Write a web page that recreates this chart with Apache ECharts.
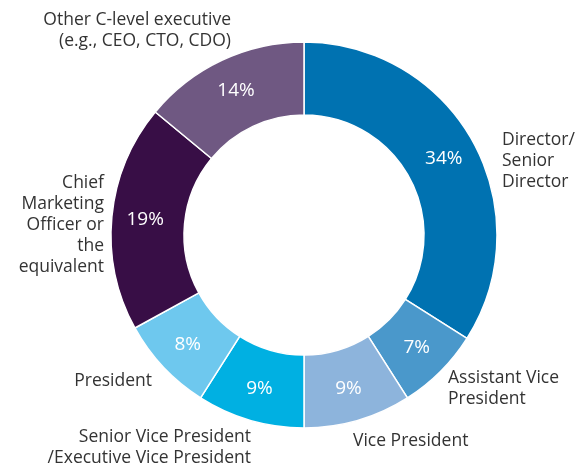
<!DOCTYPE html>
<html>
<head>
<meta charset="utf-8">
<script src="https://cdn.jsdelivr.net/npm/echarts@6/dist/echarts.min.js"></script>
<style>
  html, body { margin: 0; padding: 0; background: #fff; }
  #chart { width: 578px; height: 471px; }
</style>
</head>
<body>
<div id="chart"></div>
<script>
  // data, clockwise from 12 o'clock
  var roles = [
    'Director/\nSenior\nDirector',
    'Assistant Vice\nPresident',
    'Vice President',
    'Senior Vice President\n/Executive Vice President',
    'President',
    'Chief\nMarketing\nOfficer or\nthe\nequivalent',
    'Other C-level executive\n(e.g., CEO, CTO, CDO)'
  ];
  var shares = [34, 7, 9, 9, 8, 19, 14];
  var colors = ['#0072b1', '#4a98cb', '#8db4dc', '#00b0e2', '#6ec8ee', '#380e46', '#6f5882'];

  // where the outer labels sit (x, y, align)
  var labelPos = [
    [502, 161, 'left'],
    [448, 389, 'left'],
    [353, 441, 'left'],
    [251, 448, 'right'],
    [152, 381, 'right'],
    [104, 225, 'right'],
    [231, 31, 'right']
  ];

  var mychart = echarts.init(document.getElementById('chart'));

  var items = roles.map(function (r, i) {
    return { name: r, value: shares[i], itemStyle: { color: colors[i] } };
  });

  mychart.setOption({
    animation: false,
    series: [
      {
        type: 'pie',
        center: [304, 235],
        radius: [120, 193],
        startAngle: 90,
        clockwise: true,
        silent: true,
        itemStyle: { borderColor: '#fff', borderWidth: 1.5 },
        label: {
          position: 'inside',
          formatter: '{c}%',
          color: '#fff',
          fontSize: 19,
          fontFamily: 'Open Sans'
        },
        labelLine: { show: false },
        data: items
      },
      {
        type: 'pie',
        center: [304, 235],
        radius: [120, 193],
        startAngle: 90,
        clockwise: true,
        silent: true,
        z: 1,
        itemStyle: { color: 'rgba(0,0,0,0)' },
        label: {
          position: 'outside',
          formatter: '{b}',
          color: '#333',
          fontSize: 17.5,
          lineHeight: 21,
          fontFamily: 'Open Sans',
          overflow: 'none'
        },
        labelLine: { show: false },
        labelLayout: function (params) {
          var p = labelPos[params.dataIndex];
          return { x: p[0], y: p[1], align: p[2], verticalAlign: 'middle' };
        },
        data: roles.map(function (r, i) { return { name: r, value: shares[i] }; })
      }
    ]
  });
</script>
</body>
</html>
